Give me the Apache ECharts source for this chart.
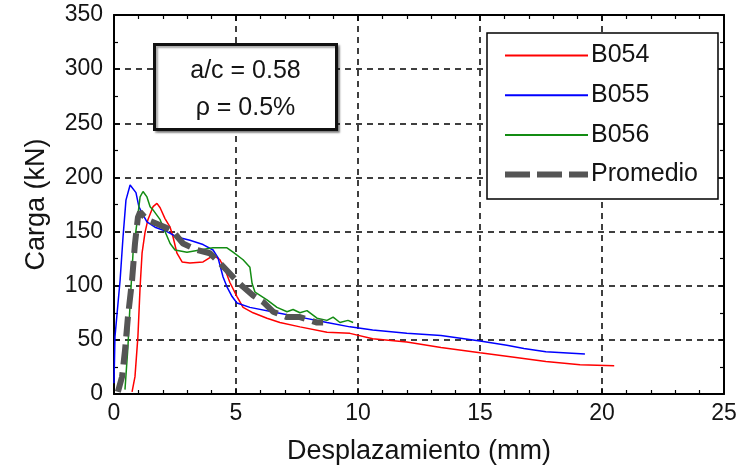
<!DOCTYPE html>
<html>
<head>
<meta charset="utf-8">
<script src="https://cdn.jsdelivr.net/npm/echarts@6/dist/echarts.min.js"></script>
<style>
  html, body { margin: 0; padding: 0; background: #fff; }
  #chart { width: 747px; height: 471px; }
</style>
</head>
<body>
<div id="chart"></div>
<script>
// Load–displacement curves, beams B054–B056 and their average
const seriesNames = ['B054', 'B055', 'B056', 'Promedio'];

const b054Disp = [0.74, 0.86, 0.98, 1.07, 1.15, 1.27, 1.39, 1.60, 1.76, 1.89, 2.09, 2.30, 2.42, 2.58, 2.79, 3.11, 3.65, 3.93, 4.14, 4.34, 4.55, 4.75, 5.04, 5.29, 5.70, 6.27, 6.80, 7.62, 8.73, 9.67, 10.6, 12.0, 13.4, 15.0, 16.4, 17.7, 19.1, 20.5];
const b054Load = [2, 16, 53, 99, 130, 149, 161, 173, 176, 172, 162, 154, 145, 130, 122, 121, 122, 126, 127, 124, 115, 103, 90, 80, 75, 70, 66, 62, 57, 56, 51, 48, 43, 38, 34, 30, 27, 26];

const b055Disp = [0.0, 0.04, 0.25, 0.37, 0.49, 0.66, 0.90, 1.02, 1.15, 1.35, 1.68, 2.17, 2.58, 3.11, 3.65, 4.06, 4.26, 4.47, 4.63, 4.84, 5.04, 5.57, 6.68, 7.62, 8.73, 9.67, 10.6, 12.0, 13.4, 15.0, 16.1, 16.8, 17.7, 19.3];
const b055Load = [10, 53, 105, 145, 179, 193, 186, 173, 167, 159, 154, 150, 145, 142, 138, 133, 126, 108, 99, 90, 84, 80, 75, 71, 66, 62, 59, 56, 54, 49, 45, 42, 39, 37];

const b056Disp = [0.45, 0.57, 0.66, 0.78, 0.94, 1.07, 1.19, 1.35, 1.48, 1.60, 1.89, 2.09, 2.30, 2.50, 2.99, 3.52, 4.06, 4.63, 4.88, 5.29, 5.57, 5.66, 5.78, 6.27, 6.68, 7.09, 7.34, 7.62, 7.91, 8.32, 8.73, 8.98, 9.26, 9.59, 9.80];
const b056Load = [4, 43, 84, 130, 158, 182, 187, 182, 173, 170, 161, 150, 139, 133, 131, 133, 135, 135, 131, 124, 117, 102, 94, 87, 80, 76, 78, 75, 77, 70, 68, 71, 66, 68, 66];

const avgDisp = [0.16, 0.33, 0.45, 0.57, 0.74, 0.86, 0.98, 1.07, 1.35, 1.68, 2.09, 2.42, 2.83, 3.40, 3.93, 4.34, 4.88, 5.29, 5.70, 6.11, 6.52, 7.09, 7.62, 8.32, 8.57];
const avgLoad = [2, 16, 40, 71, 105, 139, 163, 168, 161, 158, 154, 150, 139, 133, 130, 121, 108, 99, 91, 85, 76, 71, 71, 66, 66];

const xTicks = [0, 5, 10, 15, 20, 25];
const yTicks = [0, 50, 100, 150, 200, 250, 300, 350];

const pairs = (xs, ys) => xs.map((x, i) => [x, ys[i]]);

const font = 'Liberation Sans, Arial, sans-serif';
const textColor = '#141414';

const baseAxis = {
  type: 'value',
  axisLine: { show: true, onZero: false, lineStyle: { color: '#000', width: 2 } },
  axisTick: { show: true, inside: true, length: 6, lineStyle: { color: '#000', width: 1.5 } },
  minorTick: { show: true, length: 4, lineStyle: { color: '#000', width: 1.2 } },
  splitLine: { show: false }
};

const chart = echarts.init(document.getElementById('chart'), null, { renderer: 'canvas' });

chart.setOption({
  backgroundColor: '#fff',
  animation: false,
  grid: { left: 114, right: 23, top: 15, bottom: 77, containLabel: false },
  xAxis: [
    Object.assign({}, baseAxis, {
      min: xTicks[0], max: xTicks[xTicks.length - 1], interval: 5,
      minorTick: Object.assign({}, baseAxis.minorTick, { splitNumber: 5 }),
      position: 'bottom',
      name: 'Desplazamiento (mm)', nameLocation: 'middle', nameGap: 44,
      nameTextStyle: { fontFamily: font, fontSize: 27, color: textColor },
      axisLabel: { margin: 8, fontFamily: font, fontSize: 23, color: textColor },
      splitLine: { show: true, lineStyle: { color: '#000', width: 1.5, type: [6, 5] } }
    }),
    Object.assign({}, baseAxis, {
      min: xTicks[0], max: xTicks[xTicks.length - 1], interval: 5,
      minorTick: Object.assign({}, baseAxis.minorTick, { splitNumber: 5 }),
      position: 'top', axisLabel: { show: false }
    })
  ],
  yAxis: [
    Object.assign({}, baseAxis, {
      min: yTicks[0], max: yTicks[yTicks.length - 1], interval: 50,
      minorTick: Object.assign({}, baseAxis.minorTick, { splitNumber: 2 }),
      position: 'left',
      name: 'Carga (kN)', nameLocation: 'middle', nameGap: 64,
      nameTextStyle: { fontFamily: font, fontSize: 27, color: textColor },
      axisLabel: { margin: 11, fontFamily: font, fontSize: 23, color: textColor },
      splitLine: { show: true, lineStyle: { color: '#000', width: 1.5, type: [6, 5] } }
    }),
    Object.assign({}, baseAxis, {
      min: yTicks[0], max: yTicks[yTicks.length - 1], interval: 50,
      minorTick: Object.assign({}, baseAxis.minorTick, { splitNumber: 2 }),
      position: 'right', axisLabel: { show: false }
    })
  ],
  legend: {
    data: [
      { name: 'B054' },
      { name: 'B055' },
      { name: 'B056' },
      { name: 'Promedio', lineStyle: { width: 6, type: [25, 7], color: '#555555' } }
    ],
    orient: 'vertical',
    left: 487, top: 33,
    padding: [10, 20, 12, 15],
    itemWidth: 83, itemHeight: 24, itemGap: 14.7,
    backgroundColor: '#fff',
    borderColor: '#000', borderWidth: 1.5, borderRadius: 0,
    itemStyle: { opacity: 0, borderWidth: 0 },
    textStyle: { fontFamily: font, fontSize: 25, color: textColor, padding: [0, 0, 0, -2] }
  },
  series: [
    { name: 'B054', type: 'line', data: pairs(b054Disp, b054Load), showSymbol: false, symbol: 'none',
      lineStyle: { color: '#ff0000', width: 1.5 }, itemStyle: { color: '#ff0000' }, z: 3 },
    { name: 'B055', type: 'line', data: pairs(b055Disp, b055Load), showSymbol: false, symbol: 'none',
      lineStyle: { color: '#0000ff', width: 1.5 }, itemStyle: { color: '#0000ff' }, z: 3 },
    { name: 'B056', type: 'line', data: pairs(b056Disp, b056Load), showSymbol: false, symbol: 'none',
      lineStyle: { color: '#138c13', width: 1.5 }, itemStyle: { color: '#138c13' }, z: 3 },
    { name: 'Promedio', type: 'line', data: pairs(avgDisp, avgLoad), showSymbol: false, symbol: 'none',
      lineStyle: { color: '#555555', width: 6, type: [20, 8] }, itemStyle: { color: '#555555' }, z: 4 }
  ],
  graphic: [
    {
      type: 'group', left: 153, top: 43, z: 100, zlevel: 1,
      children: [
        { type: 'rect', z: 100, shape: { x: 0, y: 0, width: 182, height: 85 },
          style: { fill: '#fff', stroke: '#111', lineWidth: 3,
                   shadowColor: 'rgba(0,0,0,0.35)', shadowBlur: 2, shadowOffsetX: 2, shadowOffsetY: 2 } },
        { type: 'text', z: 101, x: 91, y: 27,
          style: { text: 'a/c = 0.58', font: '25px ' + font, fill: textColor, align: 'center', verticalAlign: 'middle' } },
        { type: 'text', z: 101, x: 91, y: 64,
          style: { text: 'ρ = 0.5%', font: '25px ' + font, fill: textColor, align: 'center', verticalAlign: 'middle' } }
      ]
    }
  ]
});
</script>
</body>
</html>
